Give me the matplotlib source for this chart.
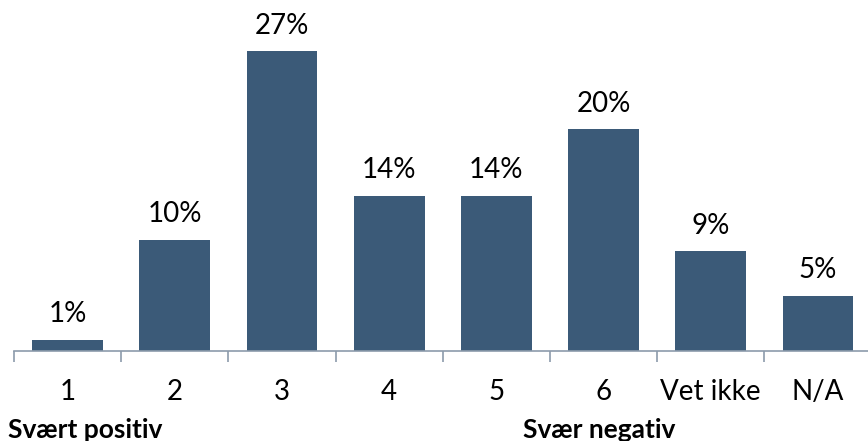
import numpy as np
import matplotlib.pyplot as plt

categories = ['1', '2', '3', '4', '5', '6', 'Vet ikke', 'N/A']
values = [1, 10, 27, 14, 14, 20, 9, 5]
value_labels = ['1%', '10%', '27%', '14%', '14%', '20%', '9%', '5%']

plt.rcParams['font.family'] = ['Lato', 'DejaVu Sans']

fig = plt.figure(figsize=(8.68, 4.41), dpi=100)
ax = fig.add_axes([14 / 868, 90 / 441, 857.6 / 868, 333 / 441])

x = np.arange(len(categories))
bars = ax.bar(x, values, width=0.66, color='#3b5a78')

for xi, v, lab in zip(x, values, value_labels):
    ax.annotate(lab, (xi, v), xytext=(0, 9), textcoords='offset points',
                ha='center', va='bottom', fontsize=20, color='black')

ax.set_xlim(-0.5, len(categories) - 0.5)
ax.set_ylim(0, 30)

# boundary ticks without labels, category names on minor ticks
ax.set_xticks(np.arange(-0.5, len(categories), 1))
ax.set_xticklabels([])
ax.set_xticks(x, minor=True)
ax.set_xticklabels(categories, minor=True, fontsize=20)
ax.tick_params(axis='x', which='major', length=8, width=1.2, color='#8c9bab')
ax.tick_params(axis='x', which='minor', length=0, pad=20)

ax.set_yticks([])
for side in ['top', 'right', 'left']:
    ax.spines[side].set_visible(False)
ax.spines['bottom'].set_color('#8c9bab')
ax.spines['bottom'].set_linewidth(1.2)

fig.text(8 / 868, 1 - 430 / 441, 'Svært positiv', fontsize=19, fontweight='bold',
         va='center', ha='left')
fig.text(523 / 868, 1 - 430 / 441, 'Svær negativ', fontsize=19, fontweight='bold',
         va='center', ha='left')

fig.savefig('out.png', dpi=100)
